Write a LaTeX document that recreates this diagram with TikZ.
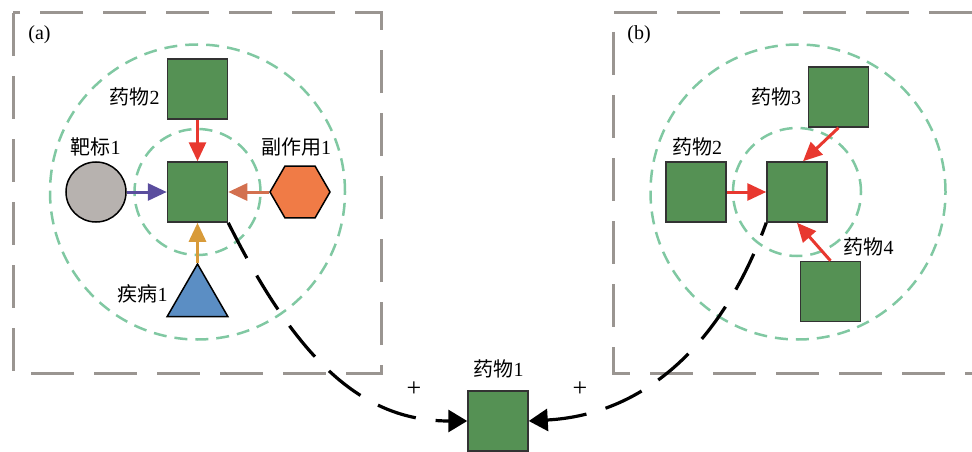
\documentclass[tikz,border=0pt]{standalone}
\usepackage{fontspec}
\setmainfont{Liberation Serif}
\newfontfamily\cjk{Noto Sans CJK SC}
\usetikzlibrary{arrows.meta,shapes.geometric}
\definecolor{drugg}{HTML}{559154}
\definecolor{edgeg}{HTML}{333333}
\definecolor{tgtc}{HTML}{B7B2AF}
\definecolor{hexc}{HTML}{F07B46}
\definecolor{tric}{HTML}{5B8EC4}
\definecolor{redc}{HTML}{E8382F}
\definecolor{purc}{HTML}{5A4D9E}
\definecolor{corc}{HTML}{D3704F}
\definecolor{golc}{HTML}{D89B3A}
\definecolor{ringc}{HTML}{80C8A2}
\definecolor{framec}{HTML}{9A9591}
\tikzset{
  drugbox/.style={draw=edgeg, line width=1.5pt, fill=drugg, minimum size=60pt, inner sep=0pt},
  ring/.style={draw=ringc, line width=2.5pt, dash pattern=on 13pt off 8pt, circle, inner sep=0pt},
  framel/.style={draw=framec, line width=3pt, dash pattern=on 43pt off 20pt},
  lbl/.style={font=\fontsize{20}{24}\selectfont, inner sep=0pt},
  arr/.style={line width=3pt, -{Triangle[length=19pt,width=17pt]}},
  blk/.style={line width=3.2pt, black, dash pattern=on 40pt off 20pt},
}
\begin{document}
\begin{tikzpicture}[x=1pt,y=-1pt]
\useasboundingbox (0,0) rectangle (972,452);
% frames
\draw[framel] (13,13) rectangle (381,373);
\draw[framel] (972,13) -- (613,13) -- (613,373) -- (972,373);
\node[lbl] (la) at (39.5,35) {(a)};
\node[lbl] (lb) at (639,35) {(b)};
% panel a
\node[ring, minimum size=126pt] (ina) at (197.5,192) {};
\node[ring, minimum size=295pt] (outa) at (197.5,192) {};
\node[drugbox] (ca) at (197.5,192) {};
\node[drugbox] (d2a) at (197.5,89) {};
\node[circle, draw=black, line width=1.5pt, fill=tgtc, minimum size=60pt, inner sep=0pt] (tgt) at (96,192) {};
\node[regular polygon, regular polygon sides=6, draw=black, line width=1.5pt, fill=hexc, minimum size=60pt, inner sep=0pt] (hex) at (300,192) {};
\node[regular polygon, regular polygon sides=3, draw=black, line width=1.5pt, fill=tric, minimum size=70pt, inner sep=0pt] (tri) at (197.5,299) {};
\node[lbl] (t1) at (134.5,97) {{\cjk 药物}2};
\node[lbl] (t2) at (95.5,147) {{\cjk 靶标}1};
\node[lbl] (t3) at (296,147) {{\cjk 副作用}1};
\node[lbl] (t4) at (142.7,293.5) {{\cjk 疾病}1};
\draw[arr, redc] (d2a.south) -- (ca.north);
\draw[arr, purc] (tgt.east) -- (ca.west);
\draw[arr, corc] (hex.west) -- (ca.east);
\draw[arr, golc] (tri.corner 1) -- (ca.south);
% panel b
\node[ring, minimum size=128pt] (inb) at (797,192) {};
\node[ring, minimum size=295pt] (outb) at (798,192) {};
\node[drugbox] (cb) at (797,192) {};
\node[drugbox] (d2b) at (696,192) {};
\node[drugbox] (d3) at (838.5,97) {};
\node[drugbox] (d4) at (830.5,291.5) {};
\node[lbl] (t5) at (776,97) {{\cjk 药物}3};
\node[lbl] (t6) at (697,147) {{\cjk 药物}2};
\node[lbl] (t7) at (868.5,247) {{\cjk 药物}4};
\draw[arr, redc] (d2b.east) -- (cb.west);
\draw[arr, redc] (d3.south) -- ([xshift=6pt]cb.north);
\draw[arr, redc] (d4.north) -- (cb.south);
% drug 1
\node[drugbox] (d1) at (498,421) {};
\node[lbl] (t8) at (498.5,369) {{\cjk 药物}1};
\node[lbl, font=\fontsize{26}{30}\selectfont] (p1) at (414,389) {+};
\node[lbl, font=\fontsize{26}{30}\selectfont] (p2) at (580,389) {+};
\draw[blk, -{Triangle[length=19pt,width=22pt]}] (ca.south east) .. controls (295.5,357) and (360,421) .. (d1.west);
\draw[blk, {Triangle[length=19pt,width=22pt]}-] (d1.east) .. controls (640,415) and (720,350) .. (cb.south west);
\end{tikzpicture}
\end{document}
